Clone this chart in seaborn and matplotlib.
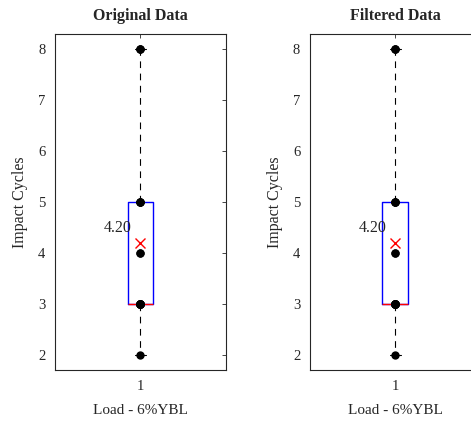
import numpy as np
import pandas as pd
import matplotlib
matplotlib.use("Agg")
import matplotlib.pyplot as plt
import seaborn as sns

# impact cycles per specimen (values 2,3,4,5,8 with repeats)
cycle_values = [2, 3, 4, 5, 8]
cycle_counts = [1, 10, 2, 4, 3]
original_cycles = np.repeat(cycle_values, cycle_counts)
filtered_cycles = np.repeat(cycle_values, cycle_counts)
group_label = "1"
titles = ["Original Data", "Filtered Data"]

sns.set_theme(style="white")
plt.rcParams["font.family"] = ["Liberation Serif", "DejaVu Serif"]
plt.rcParams["mathtext.default"] = "regular"

fig = plt.figure(figsize=(4.71, 4.23), dpi=100)
ax1 = fig.add_axes([0.1168, 0.1253, 0.363, 0.794])
ax2 = fig.add_axes([0.658, 0.1253, 0.363, 0.794])

for ax, vals, title in zip([ax1, ax2], [original_cycles, filtered_cycles], titles):
    df = pd.DataFrame({"group": group_label, "cycles": vals})
    sns.boxplot(data=df, x="group", y="cycles", ax=ax, width=0.152, fill=False,
                whis=1.5, showfliers=False, showmeans=True,
                boxprops=dict(color="blue", linewidth=1.0),
                medianprops=dict(color="red", linewidth=1.0),
                whiskerprops=dict(color="black", linewidth=0.8, linestyle=(0, (6, 5))),
                capprops=dict(color="black", linewidth=0.8),
                meanprops=dict(marker="x", markeredgecolor="red", markerfacecolor="red",
                               markersize=7, markeredgewidth=1.0),
                capwidths=0.06)
    sns.stripplot(data=df, x="group", y="cycles", ax=ax, jitter=False,
                  color="black", size=6.0, zorder=5)
    m = np.mean(vals)
    ax.text(-0.05, m + 0.3, f"{m:.2f}", ha="right", va="center", fontsize=11.5)

    ax.set_xlim(-0.5, 0.5)
    ax.set_ylim(1.7, 8.3)
    ax.set_yticks(range(2, 9))
    ax.set_title(title, fontweight="bold", fontsize=11.5, pad=10)
    ax.set_xlabel("Load - 6%YBL", fontsize=11, labelpad=8)
    ax.set_ylabel("Impact Cycles", fontsize=11.5, labelpad=7)
    ax.tick_params(direction="in", length=3, width=0.6, labelsize=10.5,
                   top=True, right=True, pad=7, colors="#262626")
    for s in ax.spines.values():
        s.set_color("#262626")
        s.set_linewidth(0.8)

fig.savefig("out.png", dpi=100)
